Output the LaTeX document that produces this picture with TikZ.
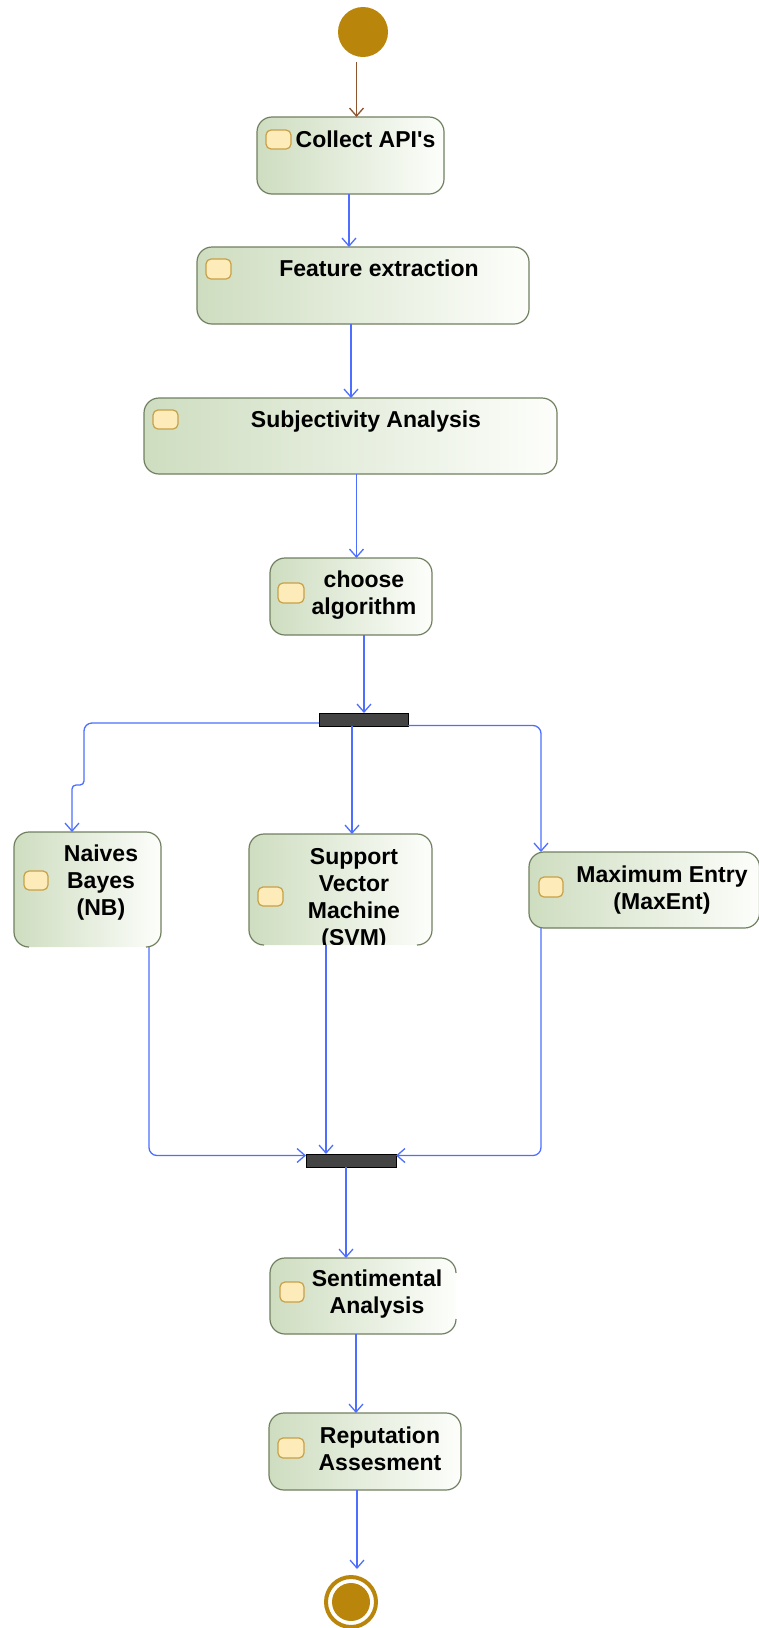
\documentclass[tikz,border=0pt]{standalone}
\usepackage{fontspec}
\setmainfont{Liberation Sans}
\usetikzlibrary{arrows.meta,fit}

\definecolor{flowblue}{RGB}{77,110,255}
\definecolor{initbrown}{RGB}{140,85,45}
\definecolor{umlgold}{RGB}{185,133,11}
\definecolor{boxline}{RGB}{112,128,96}
\definecolor{boxgreen}{RGB}{206,221,192}
\definecolor{boxwhite}{RGB}{253,254,251}
\definecolor{iconfill}{RGB}{253,236,185}
\definecolor{iconline}{RGB}{200,160,70}
\definecolor{barfill}{RGB}{68,68,68}

% centred multi-line label whose baseline is the first line
\newcommand{\txtstack}[1]{\begin{tabular}[t]{@{}c@{}}#1\end{tabular}}

\begin{document}
\begin{tikzpicture}[x=1pt,y=-1pt,
  actfill/.style={rectangle, rounded corners=15pt, left color=boxgreen,
    right color=boxwhite, inner sep=0pt, outer sep=0pt},
  actbox/.style={actfill, draw=boxline, line width=1.2pt},
  boxborder/.style={draw=boxline, line width=1.2pt, rounded corners=15pt},
  icon/.style={rectangle, rounded corners=5pt, draw=iconline, fill=iconfill,
    line width=1.2pt, inner sep=0pt, outer sep=0pt},
  syncbar/.style={rectangle, fill=barfill, draw=black, line width=1pt,
    inner sep=0pt, outer sep=0pt},
  lbl/.style={font=\fontsize{23}{27}\selectfont\bfseries, text=black,
    inner sep=0pt, anchor=base},
  flow/.style={draw=flowblue, line width=1.3pt,
    -{Straight Barb[length=8pt,width=14pt]}},
  initflow/.style={draw=initbrown, line width=1.3pt,
    -{Straight Barb[length=8pt,width=14pt]}},
]
\useasboundingbox (0,0) rectangle (759,1628);

% initial node
\node[circle, fill=umlgold, minimum size=50pt, inner sep=0pt, outer sep=0pt]
  (start) at (363,32) {};

% actions
\node[actbox, fit={(257,117) (444,194)}] (collect) {};
\node[icon, fit={(266,130) (291,149)}] (collect-icon) {};
\node[lbl] (collect-text) at (365.5,147) {Collect API\textquotesingle s};

\node[actbox, fit={(197,247) (529,324)}] (feature) {};
\node[icon, fit={(206,259) (231,279)}] (feature-icon) {};
\node[lbl] (feature-text) at (379,276) {Feature extraction};

\node[actbox, fit={(144,398) (557,474)}] (subj) {};
\node[icon, fit={(153,410) (178,429)}] (subj-icon) {};
\node[lbl] (subj-text) at (366,427) {Subjectivity Analysis};

\node[actbox, fit={(270,558) (432,635)}] (choose) {};
\node[icon, fit={(278,583) (304,603)}] (choose-icon) {};
\node[lbl] (choose-text) at (364,587) {\txtstack{choose\\algorithm}};

% fork
\node[syncbar, fit={(319,713) (408,726)}] (fork) {};

% classifiers
\node[actfill, fit={(14,832) (161,947)}] (nb) {};
\draw[boxborder] ([xshift=15pt]nb.south west) -- (nb.south west) -- (nb.north west)
  -- (nb.north east) -- (nb.south east) -- ([xshift=-15pt]nb.south east);
\node[icon, fit={(24,871) (48,890)}] (nb-icon) {};
\node[lbl] (nb-text) at (101,861) {\txtstack{Naives\\Bayes\\(NB)}};

\node[actfill, fit={(249,834) (432,945)}] (svm) {};
\draw[boxborder] ([xshift=15pt]svm.south west) -- (svm.south west) -- (svm.north west)
  -- (svm.north east) -- (svm.south east) -- ([xshift=-15pt]svm.south east);
\node[icon, fit={(258,887) (283,906)}] (svm-icon) {};
\begin{scope}
  \clip (240,830) rectangle (440,944);
  \node[lbl] (svm-text) at (354,864) {\txtstack{Support\\Vector\\Machine\\(SVM)}};
\end{scope}

\node[actbox, fit={(529,852) (759.5,928)}] (maxent) {};
\node[icon, fit={(539,877) (563,897)}] (maxent-icon) {};
\node[lbl] (maxent-text) at (662,882) {\txtstack{Maximum Entry\\(MaxEnt)}};

% join
\node[syncbar, fit={(306,1154) (396,1167)}] (join) {};

\node[actfill, fit={(270,1258) (456,1334)}] (sent) {};
\draw[boxborder] ([yshift=-15pt]sent.north east) -- (sent.north east) -- (sent.north west)
  -- (sent.south west) -- (sent.south east) -- ([yshift=15pt]sent.south east);
\node[icon, fit={(280,1282) (304,1302)}] (sent-icon) {};
\node[lbl] (sent-text) at (377,1286) {\txtstack{Sentimental\\Analysis}};

\node[actbox, fit={(269,1413) (461,1490)}] (rep) {};
\node[icon, fit={(278,1438) (304,1458)}] (rep-icon) {};
\node[lbl] (rep-text) at (380,1443) {\txtstack{Reputation\\Assesment}};

% final node
\node[circle, draw=umlgold, line width=4pt, minimum size=50pt, inner sep=0pt,
  outer sep=2pt] (fin) at (351,1602) {};
\node[circle, fill=umlgold, minimum size=38pt, inner sep=0pt] (fin-dot) at (fin.center) {};

% control flows
\draw[initflow] ([xshift=-6.5pt,yshift=-5pt]start.south) -- ([xshift=6pt]collect.north);
\draw[flow] ([xshift=-1.5pt]collect.south) -- ([xshift=-14pt]feature.north);
\draw[flow] ([xshift=-12pt]feature.south) -- ([xshift=0.5pt]subj.north);
\draw[flow] ([xshift=6pt]subj.south) -- ([xshift=5.5pt]choose.north);
\draw[flow] ([xshift=13pt]choose.south) -- ([xshift=0.5pt]fork.north);

\draw[flow, rounded corners=8pt] ([yshift=-3.5pt]fork.west) -- (84,723)
  [rounded corners=4pt] -- (84,785) -- (72,785) -- ([xshift=-15.5pt]nb.north);
\draw[flow] ([xshift=-11.5pt]fork.south) -- ([xshift=11.5pt]svm.north);
\draw[flow, rounded corners=8pt] ([yshift=-6pt]fork.east) -| ([xshift=-103.25pt]maxent.north);

\draw[flow, rounded corners=8pt] ([xshift=61.5pt]nb.south) |- ([yshift=5pt]join.west);
\draw[flow] ([xshift=-14.5pt]svm.south) -- ([xshift=-25pt]join.north);
\draw[flow, rounded corners=8pt] ([xshift=-103.25pt]maxent.south) |- ([yshift=5pt]join.east);

\draw[flow] ([xshift=-5pt]join.south) -- ([xshift=-17pt]sent.north);
\draw[flow] ([xshift=-7pt]sent.south) -- ([xshift=-9pt]rep.north);
\draw[flow] ([xshift=-8pt]rep.south) -- ([xshift=6pt,yshift=6pt]fin.north);
\end{tikzpicture}
\end{document}
